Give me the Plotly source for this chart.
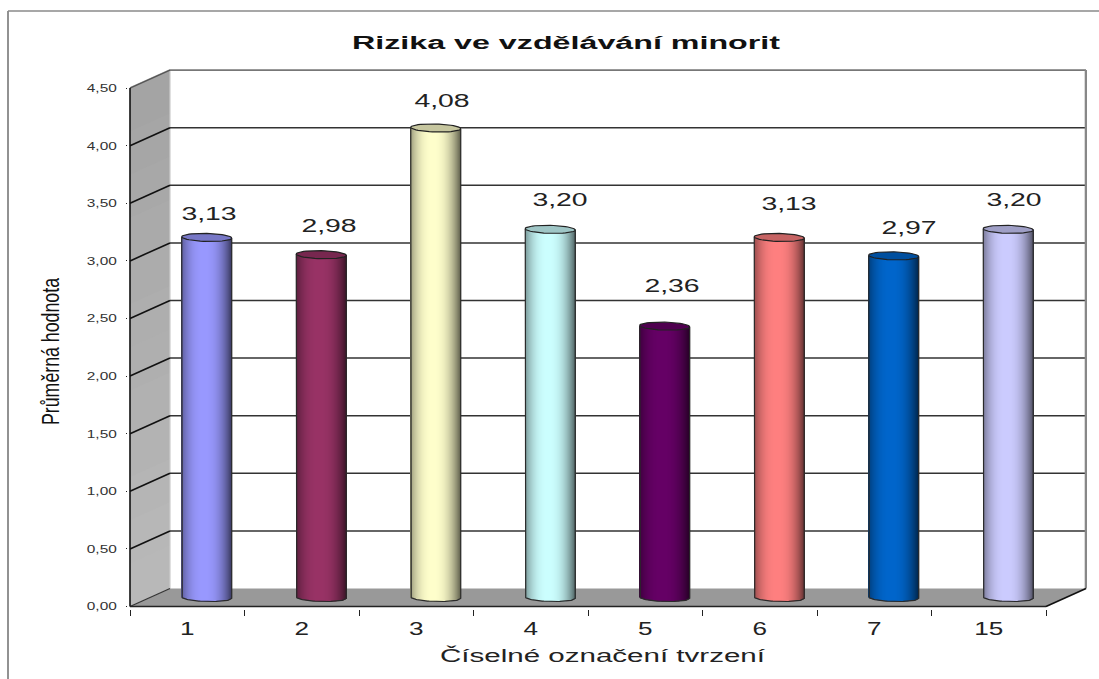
import math
import plotly.graph_objects as go

categories = ["1", "2", "3", "4", "5", "6", "7", "15"]
values = [3.13, 2.98, 4.08, 3.20, 2.36, 3.13, 2.97, 3.20]
value_labels = ["3,13", "2,98", "4,08", "3,20", "2,36", "3,13", "2,97", "3,20"]
colors = ["#9999FF", "#993366", "#FFFFCC", "#CCFFFF", "#660066", "#FF8080", "#0066CC", "#CCCCFF"]
y_ticks = [0, 0.5, 1, 1.5, 2, 2.5, 3, 3.5, 4, 4.5]
label_dx = [2, 8, 6, 10, 7, 10, 15, 6]
label_dy = [23, 29, 27, 29, 40, 33, 28, 29]

W, H = 1099, 679
X_PX, Y_PX = 114.5, 115.2
L, R, T, B = 128, 1087, 68, 609
DX, DY = 40 / X_PX, 18 / Y_PX
RX, EY, TILT = 25 / X_PX, 4.0 / Y_PX, 0.7 / Y_PX
X0, X1 = 0.5, 8.5
YTOP = 4.5
xr = [0.5 + (L - 130) / X_PX, 0.5 + (R - 130) / X_PX]
yr = [(606.5 - B) / Y_PX, (606.5 - T) / Y_PX]
xpos = list(range(1, len(categories) + 1))
FONT = "Liberation Sans"


def shade(c, f):
    r, g, b = int(c[1:3], 16), int(c[3:5], 16), int(c[5:7], 16)
    return f"rgb({int(r*f)},{int(g*f)},{int(b*f)})"


def poly(pts, fill, line=None, w=0):
    d = "M" + " L".join(f"{a:.4f},{b:.4f}" for a, b in pts) + " Z"
    return dict(type="path", path=d, xref="x", yref="y", layer="below", fillcolor=fill,
                line=dict(color=line or "rgba(0,0,0,0)", width=w))


def seg(a, b, c, d, color="#222222", w=1.6):
    return dict(type="line", x0=a, y0=b, x1=c, y1=d, xref="x", yref="y", layer="below",
                line=dict(color=color, width=w))


shapes = []
# back wall
shapes.append(poly([(X0 + DX, DY), (X1 + DX, DY), (X1 + DX, YTOP + DY), (X0 + DX, YTOP + DY)], "#ffffff"))
# side wall, slightly lighter to the floor
bands = 12
for i in range(bands):
    a, b = YTOP * i / bands, YTOP * (i + 1) / bands + 0.01
    g = 184 - int(20 * i / (bands - 1))
    shapes.append(poly([(X0, a), (X0 + DX, a + DY), (X0 + DX, b + DY), (X0, b)], f"rgb({g},{g},{g})"))
shapes.append(seg(X0 + DX, DY, X0 + DX, YTOP + DY, "#cccccc", 1.2))
# floor
shapes.append(poly([(X0, 0), (X1, 0), (X1 + DX, DY), (X0 + DX, DY)], "#999999"))
# grid on the wall
for v in y_ticks[1:-1]:
    shapes.append(seg(X0 + DX, v + DY, X1 + DX, v + DY, "#333333", 1.5))
    shapes.append(seg(X0, v, X0 + DX, v + DY, "#111111", 1.6))
shapes.append(seg(X0 + DX, YTOP + DY, X1 + DX, YTOP + DY, "#777777", 1.6))
shapes.append(seg(X0, YTOP, X0 + DX, YTOP + DY, "#555555", 1.2))
shapes.append(seg(X1 + DX, DY, X1 + DX, YTOP + DY, "#888888", 2.6))
shapes.append(seg(X0, 0, X0 + DX, DY, "#333333", 1.2))
# front axes
shapes.append(seg(X0, 0, X0, YTOP, "#111111", 1.6))
shapes.append(seg(X0, 0, X1, 0, "#222222", 1.6))
shapes.append(seg(X1, 0, X1 + DX, DY, "#111111", 1.6))
# page frame
px = lambda p: (p - L) / (R - L)
py = lambda p: (B - p) / (B - T)
shapes.append(dict(type="line", xref="paper", yref="paper", x0=px(8), x1=px(8), y0=py(11), y1=py(679),
                   line=dict(color="#777777", width=1.6), layer="below"))
shapes.append(dict(type="line", xref="paper", yref="paper", x0=px(8), x1=px(1099), y0=py(11), y1=py(11),
                   line=dict(color="#8a8a8a", width=1.6), layer="below"))

fig = go.Figure()
# cylinder bodies: thin strips shaded across the width
N = 50
cx = [p + DX / 2 - 0.5 / X_PX for p in xpos]
tops = [v + (18 - 1) / Y_PX / 2 for v in values]
for k in range(N):
    t = -1 + (2 * k + 1) / N
    f = 1 - 0.5 * abs(t + 0.08) ** 2.4
    low = DY / 2 - EY * math.sqrt(1 - t * t) - TILT * t
    fig.add_trace(go.Bar(
        x=[c + t * RX for c in cx],
        y=[v - low for v in tops],
        base=low,
        width=2 * RX / N * 1.1,
        marker=dict(color=[shade(c, f) for c in colors], line=dict(width=0)),
        hoverinfo="skip", showlegend=False))

# outline and top cap of each cylinder
M = 48
for c, v, col in zip(cx, tops, colors):
    xs, ys = [c - RX], [v + TILT]
    for j in range(M + 1):
        t = -math.cos(math.pi * j / M)
        xs.append(c + t * RX)
        ys.append(DY / 2 - EY * math.sqrt(max(0, 1 - t * t)) - TILT * t)
    xs.append(c + RX)
    ys.append(v - TILT)
    fig.add_trace(go.Scatter(x=xs, y=ys, mode="lines", line=dict(color="#2a2a2a", width=1.2),
                             hoverinfo="skip", showlegend=False))
    xs, ys = [], []
    for j in range(M + 1):
        a = 2 * math.pi * j / M
        xs.append(c + RX * math.cos(a))
        ys.append(v + EY * math.sin(a) - TILT * math.cos(a))
    fig.add_trace(go.Scatter(x=xs, y=ys, mode="lines", fill="toself", fillcolor=shade(col, 0.78),
                             line=dict(color="#222222", width=1.2), hoverinfo="skip", showlegend=False))

annotations = [
    dict(x=c, y=v, xref="x", yref="y", text=t, showarrow=False, xshift=dx, yshift=dy,
         font=dict(family=FONT, size=17.5, color="#222222"), xanchor="center", yanchor="middle")
    for c, v, t, dx, dy in zip(cx, tops, value_labels, label_dx, label_dy)
]

fig.update_layout(
    width=W, height=H, margin=dict(l=L, r=W - R, t=T, b=H - B, autoexpand=False),
    paper_bgcolor="white", plot_bgcolor="white", barmode="overlay", showlegend=False,
    separators=", ", shapes=shapes, annotations=annotations,
    title=dict(text="<b>Rizika ve vzdělávání minorit</b>", x=px(566), xref="paper", xanchor="center",
               y=1 - 43 / H, yref="container", yanchor="middle",
               font=dict(family=FONT, size=18, color="#111111")),
    xaxis=dict(range=xr, tickmode="array", tickvals=xpos, ticktext=categories, showgrid=False, zeroline=False,
               ticks="outside", ticklen=3, tickcolor="rgba(0,0,0,0)", showline=False,
               tickfont=dict(family=FONT, size=18, color="#222222"),
               minor=dict(ticks="outside", ticklen=6, tick0=0.5, dtick=1, tickcolor="#222222", tickwidth=1.4, showgrid=False),
               title=dict(text="Číselné označení tvrzení", standoff=12,
                          font=dict(family=FONT, size=17.5, color="#222222"))),
    yaxis=dict(range=yr, tickmode="array", tickvals=y_ticks, tickformat=".2f", showgrid=False, zeroline=False,
               ticks="outside", ticklen=1, tickcolor="#222222", tickwidth=1.4, showline=False, ticklabelstandoff=7,
               tickfont=dict(family=FONT, size=11, color="#333333"),
               title=dict(text="Průměrná hodnota", standoff=29,
                          font=dict(family=FONT, size=23, color="#111111"))),
)

# The reference text is drawn stretched: keep it real text, widen or narrow the glyphs.
post = """
document.body.style.margin = '0';
function fit(sel, fn) {
  document.querySelectorAll(sel).forEach(function (el) {
    el.setAttribute('textLength', fn(el.getComputedTextLength()));
    el.setAttribute('lengthAdjust', 'spacingAndGlyphs');
  });
}
fit('.gtitle', function () { return 428; });
fit('.xtitle', function () { return 325; });
fit('.ytitle', function () { return 147; });
fit('.annotation-text', function (w) { return w * 1.62; });
fit('.xtick text', function (w) { return w * 1.45; });
fit('.ytick text', function (w) { return w * 1.4; });
var xt = document.querySelector('.xtitle');
xt.setAttribute('x', +xt.getAttribute('x') - 5);
var yt = document.querySelector('.ytitle');
var tx = +yt.getAttribute('x'), ty = +yt.getAttribute('y') + 13;
yt.setAttribute('y', ty);
yt.setAttribute('transform', 'rotate(-90,' + tx + ',' + ty + ')');
"""
fig.write_html("out.html", config=dict(displayModeBar=False), post_script=post)
